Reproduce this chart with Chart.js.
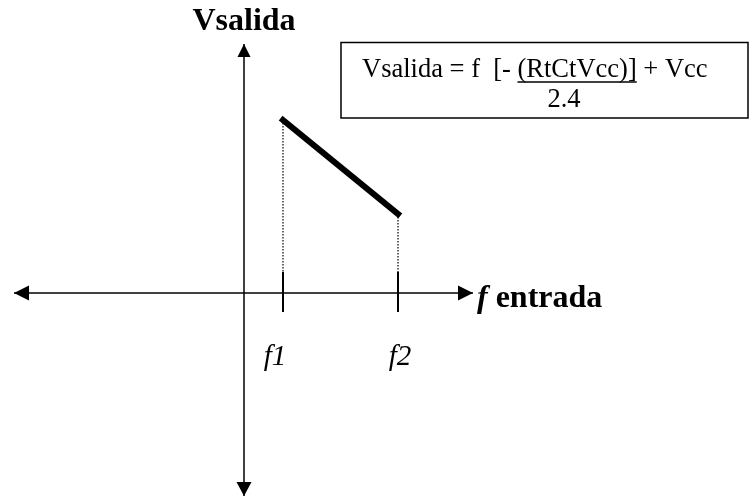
<!DOCTYPE html>
<html>
<head>
<meta charset="utf-8">
<script src="https://cdn.jsdelivr.net/npm/chart.js"></script>
<style>
  html, body { margin: 0; padding: 0; background: #fff; }
  #wrap { width: 752px; height: 502px; position: relative; }
</style>
</head>
<body>
<div id="wrap"><canvas id="chart"></canvas></div>
<script>
// input frequency marks and the output voltage at each one
const freqLabels = ['f1', 'f2'];
const freqValues = [3.9, 15.4];
const voutValues = [17.3, 7.9];

// axis ends (where the arrow tips are) and the tick mark span
const xAxisEnds = [-23.0, 22.9];
const yAxisEnds = [24.9, -20.3];
const tickSpan = [2.1, -1.9];

// visible range of the scales
const xRange = [-24.4, 50.8];
const yRange = [-20.9, 29.3];

const serif = '"Liberation Serif", "Times New Roman", serif';

function seg(x1, y1, x2, y2) {
    return [{ x: x1, y: y1 }, { x: x2, y: y2 }];
}

const datasets = [];

// axes
datasets.push({ data: seg(xAxisEnds[0], 0, xAxisEnds[1], 0), borderWidth: 1.5 });
datasets.push({ data: seg(0, yAxisEnds[0], 0, yAxisEnds[1]), borderWidth: 1.5 });

// dotted drop lines and tick marks
freqValues.forEach(function(f, i) {
    datasets.push({ data: seg(f, voutValues[i], f, tickSpan[0]), borderWidth: 1.2, borderDash: [1.5, 1.5] });
    datasets.push({ data: seg(f, tickSpan[0], f, tickSpan[1]), borderWidth: 2 });
});

// the output line itself
datasets.push({
    data: freqValues.map(function(f, i) { return { x: f, y: voutValues[i] }; }),
    borderWidth: 6,
    borderCapStyle: 'square'
});

datasets.forEach(function(d) {
    d.showLine = true;
    d.pointRadius = 0;
    d.borderColor = '#000';
    d.clip = false;
});

// arrow heads and all the text
const decorations = {
    id: 'decorations',
    afterDraw: function(chart) {
        const ctx = chart.ctx;
        const xs = chart.scales.x;
        const ys = chart.scales.y;
        const x0 = xs.getPixelForValue(0);
        const y0 = ys.getPixelForValue(0);

        function arrow(tx, ty, dx, dy, len, half) {
            const bx = tx - dx * len, by = ty - dy * len;
            ctx.beginPath();
            ctx.moveTo(tx, ty);
            ctx.lineTo(bx - dy * half, by + dx * half);
            ctx.lineTo(bx + dy * half, by - dx * half);
            ctx.closePath();
            ctx.fill();
        }

        ctx.save();
        ctx.fillStyle = '#000';
        ctx.strokeStyle = '#000';
        arrow(xs.getPixelForValue(xAxisEnds[0]), y0, -1, 0, 15, 7.5);
        arrow(xs.getPixelForValue(xAxisEnds[1]), y0, 1, 0, 15, 7.5);
        arrow(x0, ys.getPixelForValue(yAxisEnds[0]), 0, -1, 13, 6.5);
        arrow(x0, ys.getPixelForValue(yAxisEnds[1]), 0, 1, 14, 7.5);

        // axis titles
        ctx.textBaseline = 'alphabetic';
        ctx.textAlign = 'center';
        ctx.font = 'bold 32px ' + serif;
        ctx.fillText('Vsalida', x0, 30);

        ctx.textAlign = 'left';
        let tx = xs.getPixelForValue(xAxisEnds[1]) + 4;
        ctx.font = 'italic bold 32px ' + serif;
        ctx.fillText('f', tx, 307);
        tx += ctx.measureText('f').width;
        ctx.font = 'bold 32px ' + serif;
        ctx.fillText(' entrada', tx, 307);

        // f1 / f2 labels under the ticks
        const labelShift = [-8, 2];
        ctx.textAlign = 'center';
        ctx.font = 'italic 29px ' + serif;
        freqLabels.forEach(function(lbl, i) {
            ctx.fillText(lbl, xs.getPixelForValue(freqValues[i]) + labelShift[i], 365);
        });

        // formula box
        ctx.lineWidth = 1.5;
        ctx.strokeRect(341, 42.5, 407, 75.5);
        ctx.font = '26.5px ' + serif;
        ctx.textAlign = 'left';
        const parts = ['Vsalida = f  [- ', '(RtCtVcc)]', ' + Vcc'];
        let fx = 362;
        const fy = 77;
        ctx.fillText(parts[0], fx, fy);
        fx += ctx.measureText(parts[0]).width;
        const uw = ctx.measureText(parts[1]).width;
        ctx.fillText(parts[1], fx, fy);
        ctx.lineWidth = 1.3;
        ctx.beginPath();
        ctx.moveTo(fx, fy + 5);
        ctx.lineTo(fx + uw, fy + 5);
        ctx.stroke();
        fx += uw;
        ctx.fillText(parts[2], fx, fy);
        ctx.textAlign = 'center';
        ctx.fillText('2.4', 564, 107);
        ctx.restore();
    }
};

new Chart(document.getElementById('chart'), {
    type: 'scatter',
    data: { datasets: datasets },
    options: {
        responsive: true,
        maintainAspectRatio: false,
        animation: false,
        layout: { padding: 0 },
        plugins: {
            legend: { display: false },
            tooltip: { enabled: false }
        },
        scales: {
            x: { type: 'linear', display: false, min: xRange[0], max: xRange[1] },
            y: { type: 'linear', display: false, min: yRange[0], max: yRange[1] }
        }
    },
    plugins: [decorations]
});
</script>
</body>
</html>
